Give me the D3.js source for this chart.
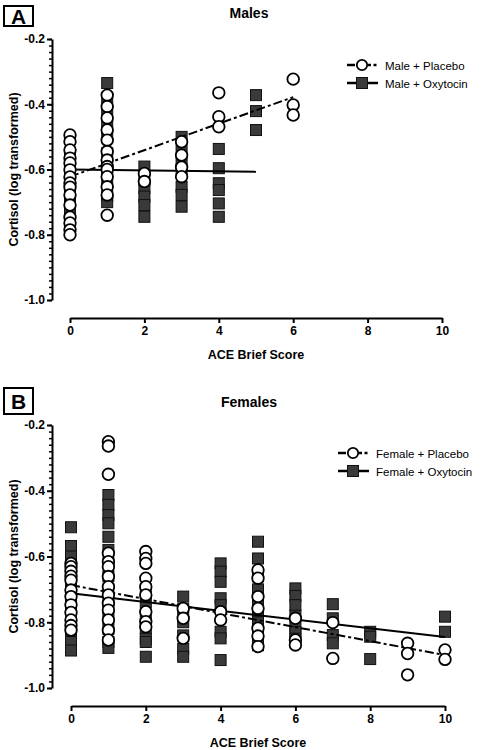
<!DOCTYPE html>
<html><head><meta charset="utf-8">
<script src="https://cdn.jsdelivr.net/npm/d3@7"></script>
<style>
html,body{margin:0;padding:0;background:#fff;}
svg{display:block;font-family:"Liberation Sans",Arial,sans-serif;}
</style></head>
<body>
<svg id="chart" width="481" height="750"></svg>
<script>
// ---------- DATA ----------
const xTicks = [0, 2, 4, 6, 8, 10];
const yTicks = [-1.0, -0.8, -0.6, -0.4, -0.2];
const yLabel = "Cortisol (log transformed)";
const xLabel = "ACE Brief Score";

const malePlacebo = [
  {score: 0, values: [-0.494, -0.515, -0.54, -0.565, -0.58, -0.601, -0.623, -0.641, -0.654, -0.678, -0.709, -0.746, -0.764, -0.785, -0.80]},
  {score: 1, values: [-0.372, -0.407, -0.442, -0.479, -0.51, -0.545, -0.571, -0.591, -0.60, -0.622, -0.653, -0.678, -0.74]},
  {score: 2, values: [-0.612, -0.637]},
  {score: 3, values: [-0.515, -0.556, -0.593, -0.622]},
  {score: 4, values: [-0.365, -0.438, -0.469]},
  {score: 6, values: [-0.323, -0.402, -0.433]}
];
const maleOxytocin = [
  {score: 0, values: [-0.55, -0.58, -0.62, -0.65, -0.68, -0.70, -0.73]},
  {score: 1, values: [-0.335, -0.38, -0.42, -0.46, -0.50, -0.55, -0.60, -0.64, -0.68, -0.70]},
  {score: 2, values: [-0.591, -0.632, -0.657, -0.683, -0.709, -0.745]},
  {score: 3, values: [-0.50, -0.53, -0.57, -0.60, -0.653, -0.678, -0.714]},
  {score: 4, values: [-0.537, -0.596, -0.642, -0.663, -0.704, -0.745]},
  {score: 5, values: [-0.372, -0.421, -0.479]}
];
const malePlaceboFit = [[0, -0.622], [6, -0.378]];
const maleOxytocinFit = [[0, -0.600], [5, -0.607]];

const femalePlacebo = [
  {score: 0, values: [-0.621, -0.631, -0.645, -0.66, -0.672, -0.702, -0.722, -0.747, -0.77, -0.793, -0.81, -0.824]},
  {score: 1, values: [-0.251, -0.264, -0.35, -0.59, -0.616, -0.631, -0.661, -0.692, -0.717, -0.742, -0.763, -0.793, -0.824, -0.854]},
  {score: 2, values: [-0.585, -0.606, -0.621, -0.666, -0.692, -0.717, -0.768, -0.798, -0.814]},
  {score: 3, values: [-0.758, -0.788, -0.849]},
  {score: 4, values: [-0.768, -0.793]},
  {score: 5, values: [-0.641, -0.666, -0.722, -0.758, -0.818, -0.842, -0.874]},
  {score: 6, values: [-0.788, -0.854, -0.869]},
  {score: 7, values: [-0.801, -0.91]},
  {score: 9, values: [-0.864, -0.895, -0.96]},
  {score: 10, values: [-0.884, -0.913]}
];
const femaleOxytocin = [
  {score: 0, values: [-0.511, -0.568, -0.60, -0.64, -0.68, -0.72, -0.76, -0.80, -0.84, -0.86, -0.886]},
  {score: 1, values: [-0.413, -0.443, -0.474, -0.499, -0.54, -0.58, -0.62, -0.66, -0.70, -0.74, -0.78, -0.82, -0.86, -0.878]},
  {score: 2, values: [-0.70, -0.74, -0.78, -0.82, -0.85, -0.86, -0.905]},
  {score: 3, values: [-0.722, -0.76, -0.80, -0.84, -0.88, -0.905]},
  {score: 4, values: [-0.621, -0.646, -0.677, -0.727, -0.748, -0.829, -0.849, -0.915]},
  {score: 5, values: [-0.555, -0.606, -0.66, -0.70, -0.74, -0.78, -0.80, -0.84, -0.87]},
  {score: 6, values: [-0.697, -0.72, -0.748, -0.78, -0.814, -0.83, -0.85]},
  {score: 7, values: [-0.745, -0.788, -0.839, -0.864]},
  {score: 8, values: [-0.829, -0.844, -0.912]},
  {score: 10, values: [-0.783, -0.829]}
];
const femalePlaceboFit = [[0, -0.687], [10, -0.90]];
const femaleOxytocinFit = [[0, -0.712], [10, -0.845]];

const panels = [
  {letter: "A", title: "Males", placebo: malePlacebo, oxytocin: maleOxytocin,
   placeboFit: malePlaceboFit, oxytocinFit: maleOxytocinFit,
   legend: ["Male + Placebo", "Male + Oxytocin"],
   x0: 70, x1: 442, yTop: 39, yBot: 300, xAxisY: 318, yAxisX: 52,
   box: [4, 6, 29, 20], titleY: 18, legX: 347, legY: 65},
  {letter: "B", title: "Females", placebo: femalePlacebo, oxytocin: femaleOxytocin,
   placeboFit: femalePlaceboFit, oxytocinFit: femaleOxytocinFit,
   legend: ["Female + Placebo", "Female + Oxytocin"],
   x0: 71, x1: 445, yTop: 425, yBot: 688, xAxisY: 706, yAxisX: 52,
   box: [4, 388, 29, 26], titleY: 407, legX: 338, legY: 453}
];

// ---------- DRAW ----------
const svg = d3.select("#chart");
const sqFill = "#3a3a3a", sqStroke = "#111";
const dashDot = "9,3,3,3";
const fmtY = d => d.toFixed(1);

function flat(groups) {
  const out = [];
  groups.forEach(g => g.values.forEach(v => out.push([g.score, v])));
  return out;
}

panels.forEach(p => {
  const g = svg.append("g");
  const x = d3.scaleLinear().domain([0, 10]).range([p.x0, p.x1]);
  const y = d3.scaleLinear().domain([-1.0, -0.2]).range([p.yBot, p.yTop]);

  // panel letter box
  g.append("rect").attr("x", p.box[0]).attr("y", p.box[1]).attr("width", p.box[2]).attr("height", p.box[3])
    .attr("fill", "none").attr("stroke", "#000").attr("stroke-width", 2);
  g.append("text").attr("x", p.box[0] + p.box[2] / 2).attr("y", p.box[1] + p.box[3] / 2 + 7.5)
    .attr("text-anchor", "middle").attr("font-size", 21).attr("font-weight", "bold").text(p.letter);

  // title
  g.append("text").attr("x", 249).attr("y", p.titleY).attr("text-anchor", "middle")
    .attr("font-size", 14).attr("font-weight", "bold").text(p.title);

  // y axis minor ticks
  const minor = d3.range(-1.0, -0.199, 0.02).map(v => +v.toFixed(2));
  g.append("g").attr("transform", `translate(${p.yAxisX},0)`)
    .call(d3.axisLeft(y).tickValues(minor).tickSize(3).tickSizeOuter(0).tickFormat(""))
    .call(a => a.selectAll("line").attr("stroke-width", 1.5))
    .call(a => a.select(".domain").attr("stroke-width", 2));
  // y axis major
  g.append("g").attr("transform", `translate(${p.yAxisX},0)`)
    .call(d3.axisLeft(y).tickValues(yTicks).tickSize(5).tickSizeOuter(0).tickPadding(2).tickFormat(fmtY))
    .call(a => a.select(".domain").remove())
    .call(a => a.selectAll("line").attr("stroke-width", 2))
    .call(a => a.selectAll("text").attr("font-size", 12).attr("font-weight", "bold")
      .attr("font-family", "Liberation Sans, Arial, sans-serif").attr("fill", "#000"));

  // x axis
  g.append("g").attr("transform", `translate(0,${p.xAxisY})`)
    .call(d3.axisBottom(x).tickValues(xTicks).tickSize(5).tickSizeOuter(0).tickPadding(3).tickFormat(d3.format("d")))
    .call(a => a.select(".domain").attr("stroke-width", 2))
    .call(a => a.selectAll("line").attr("stroke-width", 2))
    .call(a => a.selectAll("text").attr("font-size", 12).attr("font-weight", "bold")
      .attr("font-family", "Liberation Sans, Arial, sans-serif").attr("fill", "#000"));

  // axis labels
  g.append("text").attr("x", (p.x0 + p.x1) / 2).attr("y", p.xAxisY + 41).attr("text-anchor", "middle")
    .attr("font-size", 12.5).attr("font-weight", "bold").text(xLabel);
  g.append("text").attr("transform", `translate(18,${(p.yTop + p.yBot) / 2}) rotate(-90)`)
    .attr("text-anchor", "middle").attr("font-size", 12.5).attr("font-weight", "bold").text(yLabel);

  // squares (oxytocin)
  const s = 11;
  g.append("g").selectAll("rect").data(flat(p.oxytocin)).join("rect")
    .attr("x", d => x(d[0]) - s / 2).attr("y", d => y(d[1]) - s / 2)
    .attr("width", s).attr("height", s)
    .attr("fill", sqFill).attr("stroke", sqStroke).attr("stroke-width", 1);

  // fit lines
  const line = d3.line().x(d => x(d[0])).y(d => y(d[1]));
  g.append("path").attr("d", line(p.oxytocinFit)).attr("fill", "none").attr("stroke", "#000").attr("stroke-width", 2);
  g.append("path").attr("d", line(p.placeboFit)).attr("fill", "none").attr("stroke", "#000").attr("stroke-width", 2)
    .attr("stroke-dasharray", dashDot);

  // circles (placebo)
  g.append("g").selectAll("circle").data(flat(p.placebo)).join("circle")
    .attr("cx", d => x(d[0])).attr("cy", d => y(d[1])).attr("r", 5.8)
    .attr("fill", "#fff").attr("stroke", "#000").attr("stroke-width", 1.8);

  // legend
  const lg = g.append("g").attr("transform", `translate(${p.legX},${p.legY})`);
  // placebo row
  lg.append("line").attr("x1", 0).attr("x2", 8).attr("y1", 0).attr("y2", 0).attr("stroke", "#000").attr("stroke-width", 2.5);
  lg.append("line").attr("x1", 21).attr("x2", 31).attr("y1", 0).attr("y2", 0).attr("stroke", "#000").attr("stroke-width", 2.5)
    .attr("stroke-dasharray", "3,2.5");
  lg.append("circle").attr("cx", 15).attr("cy", 0).attr("r", 5.2).attr("fill", "#fff").attr("stroke", "#000").attr("stroke-width", 1.8);
  lg.append("text").attr("x", 38).attr("y", 4.5).attr("font-size", 11.5).text(p.legend[0]);
  // oxytocin row
  lg.append("line").attr("x1", 0).attr("x2", 31).attr("y1", 18).attr("y2", 18).attr("stroke", "#000").attr("stroke-width", 2.5);
  lg.append("rect").attr("x", 15 - 5.5).attr("y", 18 - 5.5).attr("width", 11).attr("height", 11)
    .attr("fill", sqFill).attr("stroke", sqStroke).attr("stroke-width", 1);
  lg.append("text").attr("x", 38).attr("y", 22.5).attr("font-size", 11.5).text(p.legend[1]);
});
</script>
</body></html>
